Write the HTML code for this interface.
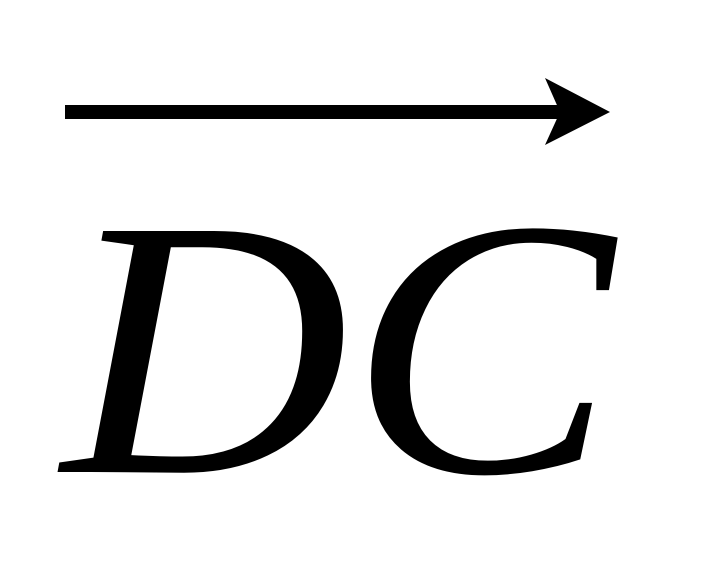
<!DOCTYPE html>
<html>
<head>
<meta charset="utf-8">
<style>
  html, body { margin: 0; padding: 0; background: #fff; }
  svg { display: block; }
  .lbl { font-family: "Liberation Serif", "Times New Roman", serif; font-style: italic; }
</style>
</head>
<body>
<svg width="704" height="576" viewBox="0 0 704 576">
  <rect x="0" y="0" width="704" height="576" fill="#ffffff"/>
  <g>
    <rect x="65" y="105" width="495" height="14" fill="#000"/>
    <path d="M545 78 L610 112 L545 145 L560 112 Z" fill="#000"/>
  </g>
  <text class="lbl" x="62" y="472" font-size="368" fill="#000" textLength="552" lengthAdjust="spacingAndGlyphs">DC</text>
</svg>
</body>
</html>
